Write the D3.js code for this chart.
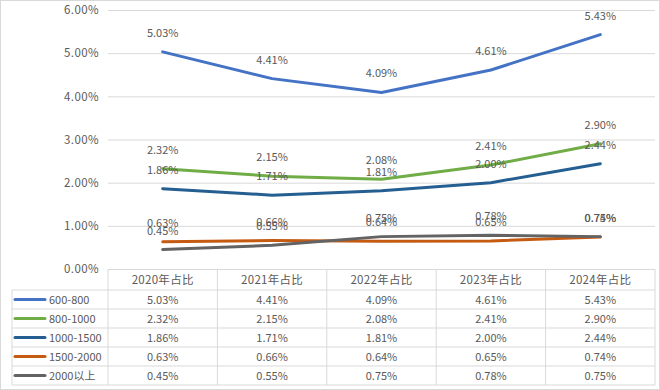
<!DOCTYPE html>
<html><head><meta charset="utf-8">
<script src="https://cdn.jsdelivr.net/npm/d3@7"></script>
<style>
html,body{margin:0;padding:0;background:#fff;}
svg{display:block;font-family:"Noto Sans CJK SC","Noto Sans",sans-serif;}
</style></head>
<body><svg id="c" width="660" height="390"></svg>
<script>
const categories = ["2020年占比","2021年占比","2022年占比","2023年占比","2024年占比"];
const seriesNames = ["600-800","800-1000","1000-1500","1500-2000","2000以上"];
const s600_800   = [5.03, 4.41, 4.09, 4.61, 5.43];
const s800_1000  = [2.32, 2.15, 2.08, 2.41, 2.90];
const s1000_1500 = [1.86, 1.71, 1.81, 2.00, 2.44];
const s1500_2000 = [0.63, 0.66, 0.64, 0.65, 0.74];
const s2000up    = [0.45, 0.55, 0.75, 0.78, 0.75];
const yTicks = [0, 1, 2, 3, 4, 5, 6];
const colors = ["#4472C4","#70AD47","#255E91","#C55A11","#636363"];

const series = [s600_800, s800_1000, s1000_1500, s1500_2000, s2000up].map((v,i)=>({name:seriesNames[i], values:v, color:colors[i]}));

const svg = d3.select("#c");
const txt = "#595959", grid = "#d9d9d9";
const L = 108, R = 655, T = 10, B = 269;
const x = d3.scaleBand().domain(categories).range([L, R]).padding(0);
const y = d3.scaleLinear().domain([0, 6]).range([B, T]);
const fmt = v => v.toFixed(2) + "%";

// outer border
svg.append("rect").attr("x",0.5).attr("y",0.5).attr("width",659).attr("height",389)
  .attr("fill","#fff").attr("stroke","#d9d9d9");

// gridlines + y labels
const yAxis = d3.axisLeft(y).tickValues(yTicks).tickFormat(fmt).tickSize(-(R-L)).tickPadding(9);
const ga = svg.append("g").attr("transform",`translate(${L},0)`).call(yAxis);
ga.select(".domain").remove();
ga.selectAll(".tick line").attr("stroke",grid).attr("stroke-width",1);
ga.selectAll(".tick text").attr("fill",txt).attr("font-size",11.5).attr("letter-spacing",0.4).attr("font-family","'Noto Sans CJK SC',sans-serif");

// table
const rowTop = 290, rowH = 19, tableLeft = 12;
const tbl = svg.append("g");
const edges = [L, ...categories.map(c => x(c) + x.bandwidth())];
edges.forEach(ex => tbl.append("line").attr("x1",ex).attr("x2",ex).attr("y1",B).attr("y2",rowTop + rowH*series.length).attr("stroke",grid));
tbl.append("line").attr("x1",tableLeft).attr("x2",tableLeft).attr("y1",rowTop).attr("y2",rowTop + rowH*series.length).attr("stroke",grid);
for (let i = 0; i <= series.length; i++) {
  tbl.append("line").attr("x1",tableLeft).attr("x2",R).attr("y1",rowTop + i*rowH).attr("y2",rowTop + i*rowH).attr("stroke",grid);
}
categories.forEach(c => tbl.append("text").attr("x", x(c)+x.bandwidth()/2).attr("y", (B+rowTop)/2+4)
  .attr("text-anchor","middle").attr("fill",txt).attr("font-size",11.5).attr("letter-spacing",0.3).text(c));
series.forEach((s,i) => {
  const cy = rowTop + i*rowH + rowH/2;
  tbl.append("line").attr("x1",15).attr("x2",45).attr("y1",cy).attr("y2",cy).attr("stroke",s.color).attr("stroke-width",3).attr("stroke-linecap","round");
  tbl.append("text").attr("x",49).attr("y",cy+4).attr("fill",txt).attr("font-size",11).text(s.name);
  s.values.forEach((v,j) => tbl.append("text").attr("x", x(categories[j])+x.bandwidth()/2).attr("y", cy+4)
    .attr("text-anchor","middle").attr("fill",txt).attr("font-size",11).text(fmt(v)));
});

// lines
const line = d3.line().x((d,j)=>x(categories[j])+x.bandwidth()/2).y(d=>y(d));
series.forEach(s => {
  svg.append("path").datum(s.values).attr("d",line).attr("fill","none")
    .attr("stroke",s.color).attr("stroke-width",3).attr("stroke-linejoin","round").attr("stroke-linecap","round");
});
// labels
series.forEach(s => {
  s.values.forEach((v,j) => svg.append("text").attr("x", x(categories[j])+x.bandwidth()/2).attr("y", y(v)-15)
    .attr("text-anchor","middle").attr("fill",txt).attr("font-size",11).text(fmt(v)));
});
</script></body></html>
